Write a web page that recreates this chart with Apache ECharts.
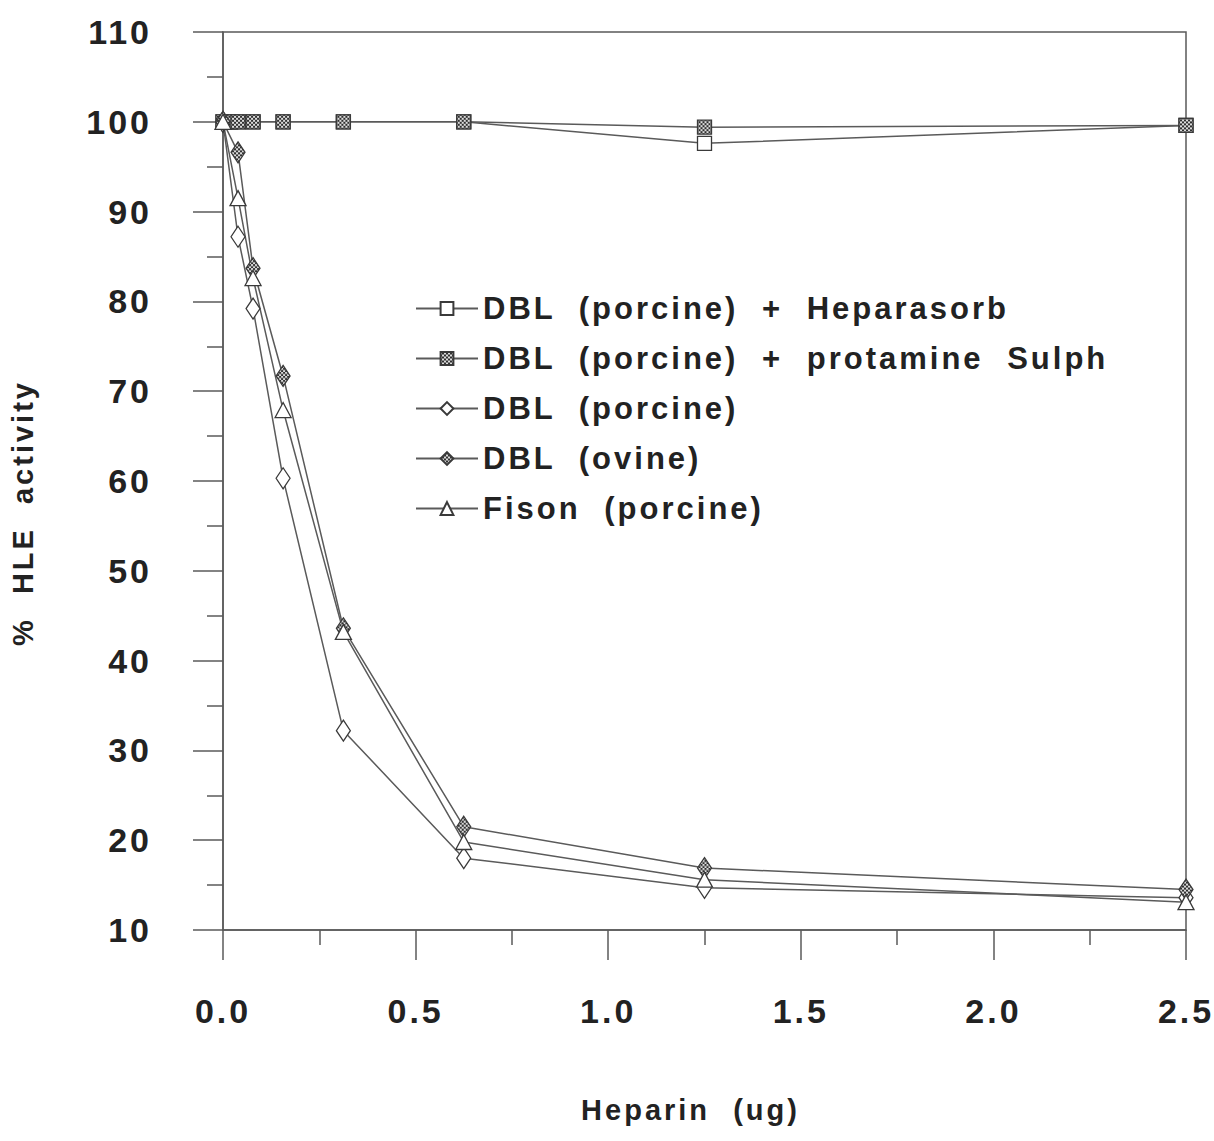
<!DOCTYPE html>
<html>
<head>
<meta charset="utf-8">
<script src="https://cdn.jsdelivr.net/npm/echarts@6/dist/echarts.min.js"></script>
<style>
  html, body { margin: 0; padding: 0; background: #fff; }
  #chart { width: 1214px; height: 1141px; }
  #chart svg text { letter-spacing: 3px; word-spacing: 12px; }
</style>
</head>
<body>
<div id="chart"></div>
<script>
// x positions (ug heparin)
const xSquares = [0, 0.0195, 0.039, 0.078, 0.156, 0.3125, 0.625, 1.25, 2.5];
const xCurves  = [0, 0.039, 0.078, 0.156, 0.3125, 0.625, 1.25, 2.5];

const seriesNames = [
  'DBL (porcine) + Heparasorb',
  'DBL (porcine) + protamine Sulph',
  'DBL (porcine)',
  'DBL (ovine)',
  'Fison (porcine)'
];

const heparasorb = [100, 100, 100, 100, 100, 100, 100, 97.6, 99.6];
const protamine  = [100, 100, 100, 100, 100, 100, 100, 99.4, 99.6];
const dblPorcine = [100, 87.2, 79.2, 60.3, 32.2, 18.0, 14.7, 13.6];
const dblOvine   = [100, 96.6, 83.7, 71.7, 43.6, 21.5, 16.9, 14.5];
const fison      = [100, 91.5, 82.6, 67.9, 43.2, 19.8, 15.6, 13.1];

const xTickMin = 0, xTickMax = 2.5, xTickStep = 0.5;
const yTickMin = 10, yTickMax = 110, yTickStep = 10;

const pair = (xs, ys) => xs.map((x, i) => [x, ys[i]]);

const FONT = 'Liberation Sans';
const LINE = '#5a5a5a';
const EDGE = '#3a3a3a';
const AX = '#5a5a5a';

const SQ = 14;          // square marker size
const DM = [14, 21];    // diamond marker size

// checkered fill used by the "hatched" markers
function checker(sx, sy) {
  const c = document.createElement('canvas');
  c.width = 4; c.height = 4;
  const g = c.getContext('2d');
  g.fillStyle = '#dcdcdc'; g.fillRect(0, 0, 4, 4);
  g.fillStyle = '#303030';
  g.fillRect(0, 0, 2, 2); g.fillRect(2, 2, 2, 2);
  return { image: c, repeat: 'repeat', imageWidth: 4, imageHeight: 4, scaleX: sx, scaleY: sy };
}
// series symbols are unit paths scaled by size/2, so counter-scale the pattern
const HATCH_SQ = checker(2 / SQ, 2 / SQ);
const HATCH_DM = checker(2 / DM[0], 2 / DM[1]);
const HATCH_LEG = checker(1, 1);

function mk(name, data, symbol, size, fill) {
  return {
    name, type: 'line', data,
    symbol, symbolSize: size,
    showSymbol: true,
    lineStyle: { color: LINE, width: 1.5 },
    itemStyle: { color: fill, borderColor: EDGE, borderWidth: 1.3 },
    emphasis: { disabled: true },
    animation: false
  };
}

const chart = echarts.init(document.getElementById('chart'), null, { renderer: 'svg' });
chart.setOption({
  backgroundColor: '#ffffff',
  animation: false,
  grid: {
    left: 223, right: 28, top: 32, bottom: 211,
    show: true, borderColor: AX, borderWidth: 1.5, backgroundColor: 'transparent'
  },
  xAxis: {
    type: 'value', min: xTickMin, max: xTickMax, interval: xTickStep,
    name: 'Heparin (ug)', nameLocation: 'middle', nameGap: 165,
    nameTextStyle: { fontFamily: FONT, fontSize: 29, fontWeight: 'bold', color: '#222', padding: [0, 28, 0, 0] },
    axisLine: { show: true, lineStyle: { color: AX, width: 1.5 } },
    axisTick: { show: true, inside: false, length: 30, lineStyle: { color: AX, width: 1.5 } },
    minorTick: { show: true, splitNumber: 2, length: 15, lineStyle: { color: AX, width: 1.5 } },
    axisLabel: { margin: 64, fontFamily: FONT, fontSize: 34, fontWeight: 'bold', color: '#222',
      formatter: v => v.toFixed(1) },
    splitLine: { show: false }
  },
  yAxis: {
    type: 'value', min: yTickMin, max: yTickMax, interval: yTickStep,
    name: '% HLE activity', nameLocation: 'middle', nameGap: 186, nameRotate: 90,
    nameTextStyle: { fontFamily: FONT, fontSize: 29, fontWeight: 'bold', color: '#222', padding: [0, 64, 0, 0] },
    axisLine: { show: true, lineStyle: { color: AX, width: 1.5 } },
    axisTick: { show: true, inside: false, length: 30, lineStyle: { color: AX, width: 1.5 } },
    minorTick: { show: true, splitNumber: 2, length: 16, lineStyle: { color: AX, width: 1.5 } },
    axisLabel: { margin: 71, fontFamily: FONT, fontSize: 34, fontWeight: 'bold', color: '#222' },
    splitLine: { show: false }
  },
  legend: {
    orient: 'vertical', left: 410, top: 288,
    itemWidth: 62, itemHeight: 16, itemGap: 19,
    textStyle: { fontFamily: FONT, fontSize: 31, fontWeight: 'bold', color: '#222' },
    data: [
      { name: seriesNames[0] },
      { name: seriesNames[1], itemStyle: { color: HATCH_LEG } },
      { name: seriesNames[2] },
      { name: seriesNames[3], itemStyle: { color: HATCH_LEG } },
      { name: seriesNames[4] }
    ],
    selectedMode: false
  },
  series: [
    mk(seriesNames[0], pair(xSquares, heparasorb), 'rect', SQ, '#ffffff'),
    mk(seriesNames[1], pair(xSquares, protamine), 'rect', SQ, HATCH_SQ),
    mk(seriesNames[2], pair(xCurves, dblPorcine), 'diamond', DM, '#ffffff'),
    mk(seriesNames[3], pair(xCurves, dblOvine), 'diamond', DM, HATCH_DM),
    mk(seriesNames[4], pair(xCurves, fison), 'triangle', [16, 15], '#ffffff')
  ]
});
</script>
</body>
</html>
